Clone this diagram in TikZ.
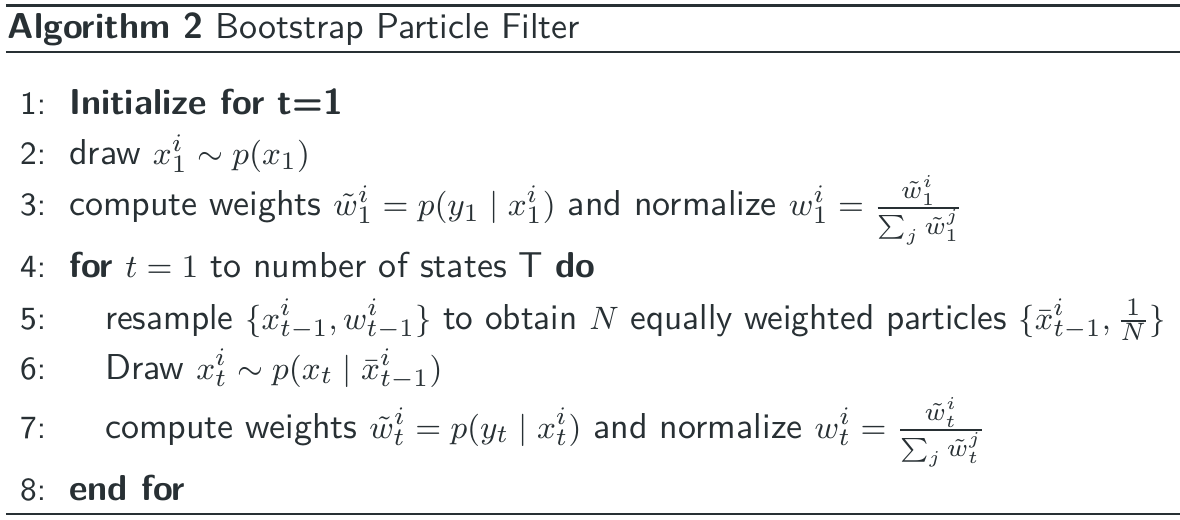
\documentclass[tikz,border=0pt]{standalone}
\usepackage{amsmath}
\DeclareMathSizes{10}{9.2}{6.6}{5}
\definecolor{ink}{RGB}{40,48,52}
\begin{document}
\begin{tikzpicture}
          [x=1pt,y=1pt,
          font=\sffamily,
          every node/.style={inner sep=0pt,text=ink},
          num/.style={anchor=base east,font=\sffamily\fontsize{9}{11}\selectfont},
          txt/.style={anchor=base west},
          rule/.style={draw=ink}]

            \useasboundingbox (0,0) rectangle (327.8,-144.2);

            % rules of the float
            \coordinate (TL) at (1.6,-1.5);
            \coordinate (TR) at (327.8,-1.5);
            \coordinate (ML) at (1.6,-14.5);
            \coordinate (MR) at (327.8,-14.5);
            \coordinate (BL) at (1.6,-142.8);
            \coordinate (BR) at (327.8,-142.8);
            \draw [rule,line width=0.7pt] (TL) -- (TR);
            \draw [rule,line width=0.4pt] (ML) -- (MR);
            \draw [rule,line width=0.4pt] (BL) -- (BR);

            \node (title) [txt] at (1.95,-10.8) {\textbf{Algorithm 2} Bootstrap Particle Filter};

            \node (n1) [num] at (13.0,-31.7) {1:};
            \node (l1) [txt] at (19.0,-31.7) {\bfseries Initialize for t=1};
            \node (n2) [num] at (13.0,-45.8) {2:};
            \node (l2) [txt] at (19.0,-45.8) {draw $x_1^i \sim p(x_1)$};
            \node (n3) [num] at (13.0,-60.0) {3:};
            \node (l3) [txt] at (19.0,-60.0) {compute weights $\tilde{w}_1^i = p(y_1 \mid x_1^i)$ and normalize $w_1^i = \frac{\tilde{w}_1^i}{\sum_j \tilde{w}_1^j}$};
            \node (n4) [num] at (13.0,-77.0) {4:};
            \node (l4) [txt] at (19.0,-77.0) {\textbf{for} $t = 1$ to number of states T \textbf{do}};
            \node (n5) [num] at (13.0,-91.4) {5:};
            \node (l5) [txt,xscale=0.98,transform shape] at (29.0,-91.4) {resample $\{x_{t-1}^i, w_{t-1}^i\}$ to obtain $N$ equally weighted particles $\{\bar{x}_{t-1}^i, \frac{1}{N}\}$};
            \node (n6) [num] at (13.0,-105.3) {6:};
            \node (l6) [txt] at (29.0,-105.3) {Draw $x_t^i \sim p(x_t \mid \bar{x}_{t-1}^i)$};
            \node (n7) [num] at (13.0,-121.7) {7:};
            \node (l7) [txt] at (29.0,-121.7) {compute weights $\tilde{w}_t^i = p(y_t \mid x_t^i)$ and normalize $w_t^i = \frac{\tilde{w}_t^i}{\sum_j \tilde{w}_t^j}$};
            \node (n8) [num] at (13.0,-138.9) {8:};
            \node (l8) [txt] at (19.0,-138.9) {\textbf{end for}};

        \end{tikzpicture}
\end{document}
